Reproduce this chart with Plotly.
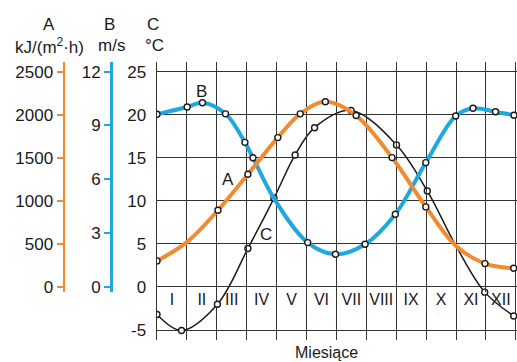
import plotly.graph_objects as go

# ---------------- data ----------------
months = ["I", "II", "III", "IV", "V", "VI", "VII", "VIII", "IX", "X", "XI", "XII"]

# positions are in months from the start of January (0 = 1 Jan, 12 = 31 Dec)
# A: solar radiation, kJ/(m2*h)
a_pos = [0, 2.04, 3.04, 4.04, 4.79, 5.63, 6.66, 7.86, 8.99, 10.97, 11.93]
a_val = [302, 890, 1309, 1734, 2010, 2150, 1990, 1502, 929, 271, 217]
a_knot_pos = [1.0, 10.0]
a_knot_val = [520, 476]

# B: wind speed, m/s
b_pos = [0, 1.01, 1.52, 2.29, 2.94, 3.21, 5.04, 5.97, 6.96, 7.97, 8.99, 9.99, 10.57, 11.32, 11.94]
b_val = [9.63, 10.03, 10.27, 9.65, 8.06, 7.2, 2.47, 1.82, 2.38, 4.05, 6.93, 9.53, 9.96, 9.77, 9.57]
b_knot_pos = [3.91]
b_knot_val = [4.94]

# C: temperature, degC
c_pos = [0, 0.82, 2.02, 3.04, 3.91, 4.62, 5.27, 6.49, 8.01, 9.04, 10.96, 11.93]
c_val = [-3.2, -5.05, -2.0, 4.47, 10.3, 15.33, 18.5, 20.5, 16.5, 11.15, -0.6, -3.37]
c_knot_pos = [10.0]
c_knot_val = [4.76]

a_ticks = [0, 500, 1000, 1500, 2000, 2500]
b_ticks = [0, 3, 6, 9, 12]
c_ticks = [-5, 0, 5, 10, 15, 20, 25]

# ---------------- layout helpers ----------------
W, H = 517, 362
TOP, BOT = 62, 340


def px_x(p):
    return p / W


def px_y(p):
    return (BOT - p) / (BOT - TOP)


def merged(pos, val, kpos, kval):
    pts = sorted(zip(list(pos) + list(kpos), list(val) + list(kval)))
    return [p for p, _ in pts], [v for _, v in pts]


ORANGE = "#F28A30"
BLUE = "#1FA8E0"
BLACK = "#1a1a1a"
FONT = "Liberation Sans, Arial, sans-serif"

fig = go.Figure()

marker_style = dict(size=6, color="white", line=dict(color=BLACK, width=1.4))

# C (black, temperature) on x/y
cx, cy = merged(c_pos, c_val, c_knot_pos, c_knot_val)
fig.add_trace(go.Scatter(x=cx, y=cy, mode="lines", line=dict(color=BLACK, width=1.5, shape="spline"),
                         xaxis="x", yaxis="y", hoverinfo="skip"))

# A (orange) on x/y3
ax_, ay_ = merged(a_pos, a_val, a_knot_pos, a_knot_val)
fig.add_trace(go.Scatter(x=ax_, y=ay_, mode="lines", line=dict(color=ORANGE, width=4, shape="spline"),
                         xaxis="x", yaxis="y3", hoverinfo="skip"))
# B (blue) on x/y2
bx, by = merged(b_pos, b_val, b_knot_pos, b_knot_val)
fig.add_trace(go.Scatter(x=bx, y=by, mode="lines", line=dict(color=BLUE, width=4, shape="spline"),
                         xaxis="x", yaxis="y2", hoverinfo="skip"))

# markers
fig.add_trace(go.Scatter(x=a_pos, y=a_val, mode="markers", marker=marker_style, xaxis="x", yaxis="y3"))
fig.add_trace(go.Scatter(x=b_pos, y=b_val, mode="markers", marker=marker_style, xaxis="x", yaxis="y2"))
fig.add_trace(go.Scatter(x=c_pos, y=c_val, mode="markers", marker=marker_style, xaxis="x", yaxis="y"))

# month labels inside the grid
fig.add_trace(go.Scatter(x=[i + 0.5 for i in range(12)], y=[-1.6] * 12, mode="text", text=months,
                         textfont=dict(size=16, color=BLACK, family=FONT), xaxis="x", yaxis="y",
                         hoverinfo="skip"))

GRID = "#333333"
fig.update_layout(
    width=W, height=H,
    margin=dict(l=0, r=0, t=TOP, b=H - BOT, autoexpand=False),
    paper_bgcolor="white", plot_bgcolor="rgba(0,0,0,0)",
    showlegend=False,
    font=dict(family=FONT, size=17, color=BLACK),
    xaxis=dict(domain=[px_x(157), 1], range=[0, 12.04], dtick=1, tick0=0, showticklabels=False,
               showgrid=True, gridcolor=GRID, gridwidth=1, zeroline=False, showline=False,
               ticks="", fixedrange=True, anchor="y"),
    yaxis=dict(domain=[0, 1], range=[-6.16, 26.13], tickvals=c_ticks, ticktext=[str(v) for v in c_ticks],
               showgrid=True, gridcolor=GRID, gridwidth=1, zeroline=False,
               showline=True, linecolor=GRID, linewidth=1.5, ticks="", ticklabelstandoff=6,
               tickfont=dict(size=17, color=BLACK), anchor="x", automargin=False),
    yaxis2=dict(domain=[px_y(292), 1], range=[-0.284, 12.54], tickvals=b_ticks,
                showgrid=False, zeroline=False, showline=True, linecolor=BLUE, linewidth=2.5,
                ticks="outside", ticklen=6, tickwidth=2, tickcolor=BLUE,
                tickfont=dict(size=17, color=BLACK), anchor="free", position=px_x(111),
                side="left", automargin=False),
    yaxis3=dict(range=[-59, 2612], tickvals=a_ticks, overlaying="y2",
                showgrid=False, zeroline=False, showline=True, linecolor=ORANGE, linewidth=2.5,
                ticks="outside", ticklen=6, tickwidth=2, tickcolor=ORANGE,
                tickfont=dict(size=17, color=BLACK), anchor="free", position=px_x(63.5),
                side="left", automargin=False),
)

ann = []


def head(text, x, y, size=17):
    ann.append(dict(text=text, x=px_x(x), y=px_y(y), xref="paper", yref="paper", showarrow=False,
                    xanchor="center", yanchor="middle", font=dict(size=size, color=BLACK, family=FONT)))


head("A", 49, 25)
head("kJ/(m<sup>2</sup>·h)", 49, 46)
head("B", 109, 25)
head("m/s", 111, 46)
head("C", 153, 25)
head("°C", 154, 46)
head("Miesiące", 326, 352, size=16)

for t, x, y in [("A", 2.37, 12.5), ("B", 1.5, 22.7), ("C", 3.63, 6.1)]:
    ann.append(dict(text=t, x=x, y=y, xref="x", yref="y", showarrow=False,
                    font=dict(size=17, color=BLACK, family=FONT)))

fig.update_layout(annotations=ann)
fig.write_html("out.html", config={"displayModeBar": False, "staticPlot": True},
               post_script="document.body.style.margin='0';document.body.style.overflow='hidden';")
